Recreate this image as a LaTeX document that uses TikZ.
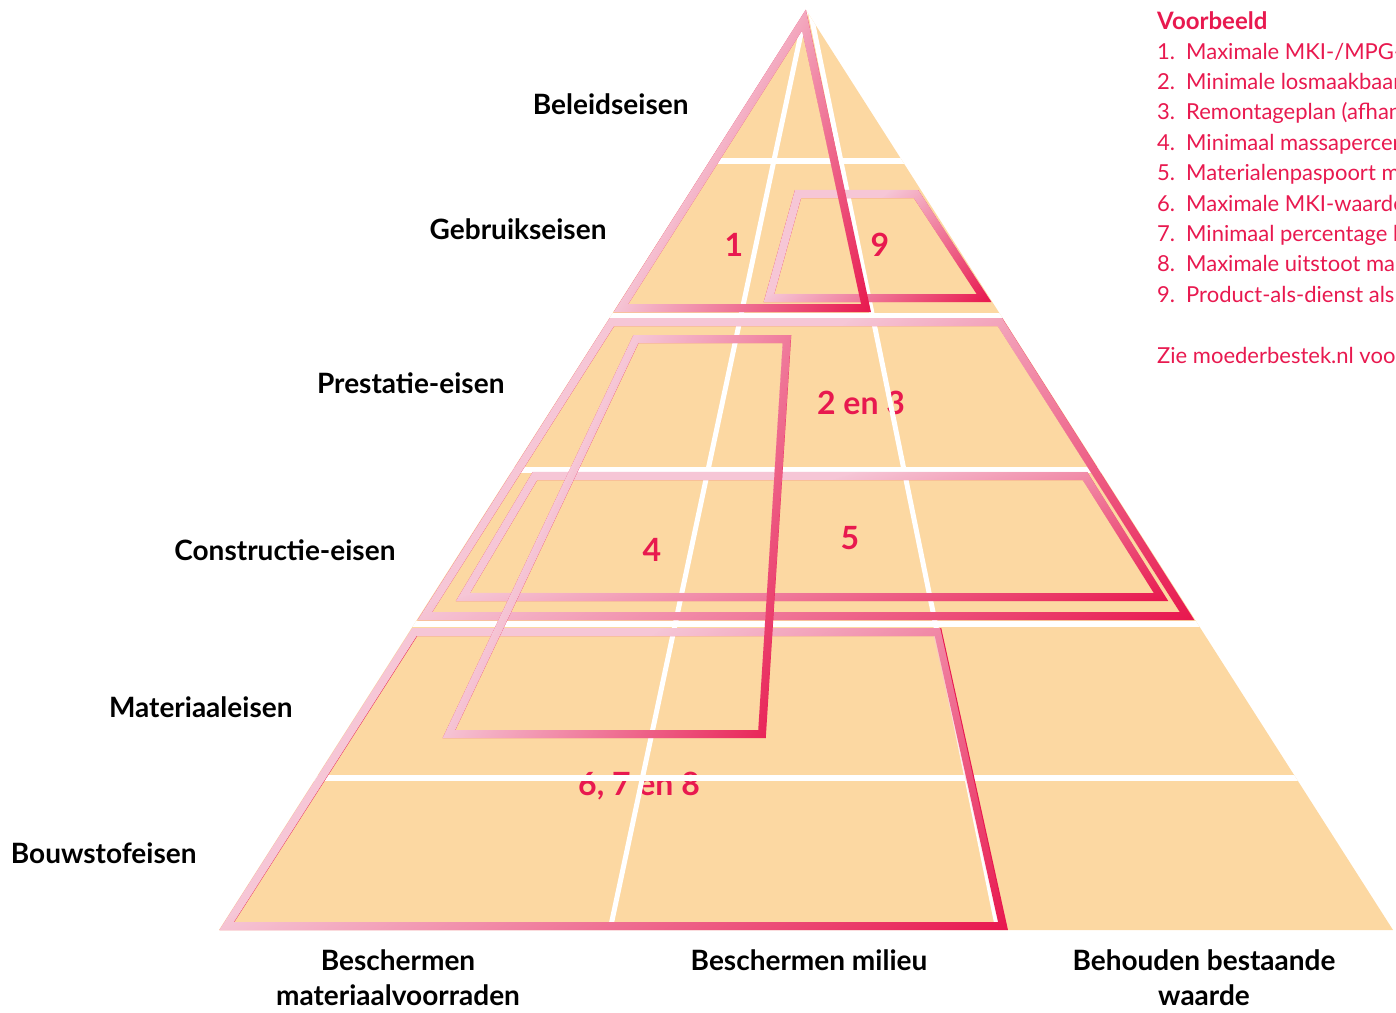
\documentclass[tikz,border=0pt]{standalone}
\usepackage{fontspec}
\setmainfont{Lato}
\usetikzlibrary{fadings}

\definecolor{perzik}{HTML}{FCD8A2}
\definecolor{lichtroze}{HTML}{F6C6D6}
\definecolor{roze}{HTML}{E8194F}

% wit = lichtroze zichtbaar, zwart = roze zichtbaar
\pgfdeclareverticalshading{rozeverloop}{100bp}{color(0bp)=(black); color(33bp)=(black);
  color(55bp)=(white); color(75bp)=(white); color(100bp)=(white)}
\begin{tikzfadingfrompicture}[name=rozefade]
  \shade[shading=rozeverloop, shading angle=60] (-50bp,-50bp) rectangle (50bp,50bp);
\end{tikzfadingfrompicture}

\tikzset{
  laag/.style={font=\bfseries\fontsize{28}{30}\selectfont, anchor=east},
  pijler/.style={font=\bfseries\fontsize{28}{35}\selectfont, align=center},
  nummer/.style={font=\bfseries\fontsize{32}{34}\selectfont, text=roze},
  lijst/.style={font=\fontsize{22}{24}\selectfont, text=roze, anchor=base west, inner sep=0pt},
  kader/.style={line width=8pt, line join=miter},
}
\newcommand\kaderpad[1]{%
  \draw[kader, roze] #1;
  \draw[kader, lichtroze, path fading=rozefade] #1;}

\begin{document}
\begin{tikzpicture}[x=1pt, y=-1pt]
  \useasboundingbox (0,0) rectangle (1396,1012);
  \clip (0,0) rectangle (1396,1012);

  % piramide
  \coordinate (top) at (806,10);
  \coordinate (linksonder) at (219,930);
  \coordinate (rechtsonder) at (1393,930);
  \fill[perzik] (top) -- (linksonder) -- (rechtsonder) -- cycle;

  % nummers in de vakken
  \node[nummer] (n1) at (734,245) {1};
  \node[nummer] (n9) at (880,245) {9};
  \node[nummer] (n23) at (861,403) {2 en 3};
  \node[nummer] (n4) at (652,550) {4};
  \node[nummer] (n5) at (850,538) {5};
  \node[nummer] (n678) at (639,786) {6, 7 en 8};

  % witte lijnen tussen lagen en pijlers
  \begin{scope}
    \clip (top) -- (linksonder) -- (rechtsonder) -- cycle;
    \foreach \y in {161,316,470,624,778}
      \draw[white, line width=6pt] (0,\y) -- (1396,\y);
    \draw[white, line width=5pt] (806,10) -- (610,930);
    \draw[white, line width=5pt] (810,10) -- (998,930);
  \end{scope}

  % kaders
  \kaderpad{(798,194) -- (916,194) -- (984,298) -- (769,298) -- cycle}
  \kaderpad{(804,20) -- (621,308) -- (866,308) -- cycle}
  \kaderpad{(612,322) -- (1000,322) -- (1187,616) -- (425,616) -- cycle}
  \kaderpad{(535,476) -- (1085,476) -- (1161,597) -- (463,597) -- cycle}
  \kaderpad{(415,632) -- (938,632) -- (1003,926) -- (227,926) -- cycle}
  \kaderpad{(636,339) -- (787,339) -- (762,734) -- (449,734) -- cycle}

  % lagen
  \node[laag] (beleid) at (692,104) {Beleidseisen};
  \node[laag] (gebruik) at (610,229) {Gebruikseisen};
  \node[laag] (prestatie) at (508,383) {Prestatie-eisen};
  \node[laag] (constructie) at (399,550) {Constructie-eisen};
  \node[laag] (materiaal) at (296,707) {Materiaaleisen};
  \node[laag] (bouwstof) at (200,853) {Bouwstofeisen};

  % pijlers
  \node[pijler, anchor=north] (voorraden) at (398,946) {Beschermen\\materiaalvoorraden};
  \node[pijler, anchor=north] (milieu) at (809,946) {Beschermen milieu};
  \node[pijler, anchor=north] (waarde) at (1204,946) {Behouden bestaande\\waarde};

  % voorbeeldlijst
  \node[lijst, font=\bfseries\fontsize{24}{26}\selectfont] (voorbeeld) at (1157,29) {Voorbeeld};
  \foreach \tekst [count=\n] in {{Maximale MKI-/MPG-}, {Minimale losmaakbaar}, {Remontageplan (afhan},
      {Minimaal massapercen}, {Materialenpaspoort m}, {Maximale MKI-waarde}, {Minimaal percentage b},
      {Maximale uitstoot ma}, {Product-als-dienst als}}
    \node[lijst] (item\n) at (1157,{28.6+30.4*\n}) {\makebox[29pt][l]{\n.}\tekst};
  \node[lijst] (zie) at (1157,363) {Zie moederbestek.nl voo};
\end{tikzpicture}
\end{document}
